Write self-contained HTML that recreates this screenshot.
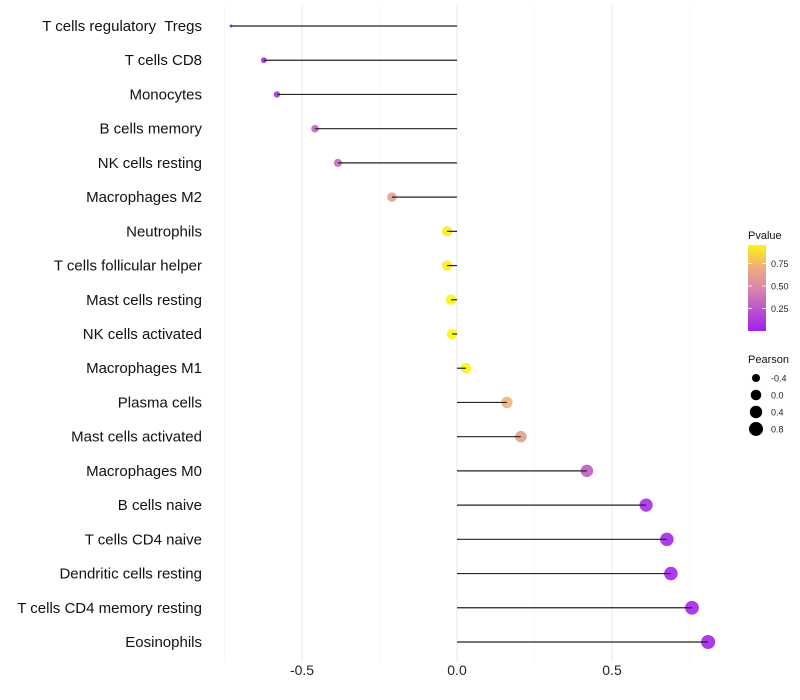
<!DOCTYPE html>
<html><head><meta charset="utf-8"><style>
body{margin:0;background:#fff;font-family:"Liberation Sans",sans-serif}
svg{display:block}
text{white-space:pre}
</style></head><body>
<svg id="chart" width="800" height="700">
<g id="grid"></g>
<g id="marks"></g>
<g id="ylabels"></g>
<g id="xlabels"></g>
<g id="legend"></g>
</svg>
<script>
const categories=["T cells regulatory  Tregs","T cells CD8","Monocytes","B cells memory","NK cells resting","Macrophages M2","Neutrophils","T cells follicular helper","Mast cells resting","NK cells activated","Macrophages M1","Plasma cells","Mast cells activated","Macrophages M0","B cells naive","T cells CD4 naive","Dendritic cells resting","T cells CD4 memory resting","Eosinophils"];
const pearson=[-0.729,-0.623,-0.581,-0.458,-0.384,-0.21,-0.032,-0.032,-0.019,-0.016,0.029,0.161,0.206,0.419,0.61,0.677,0.69,0.758,0.81];
const pvalue=[0.02,0.05,0.1,0.3,0.35,0.62,0.95,0.95,0.96,0.96,0.96,0.75,0.62,0.28,0.06,0.04,0.04,0.03,0.03];
const xTicks=[-0.5,0,0.5];
const xTickLabels=["-0.5","0.0","0.5"];
const xMinor=[-0.75,-0.25,0.25,0.75];
const legendP=[0.25,0.5,0.75];
const legendSizes=[-0.4,0.0,0.4,0.8];

const NS="http://www.w3.org/2000/svg";
const X=v=>457+v*310;
const Y=i=>26+i*(616/(categories.length-1));
const vMin=Math.min(...pearson),vMax=Math.max(...pearson);
const R=v=>1.5+5.5*Math.sqrt(Math.max(0,(v-vMin)/(vMax-vMin)));
function col(p){
  const stops=[[0,[160,32,240]],[0.5,[217,140,168]],[0.75,[240,180,120]],[1,[255,255,0]]];
  for(let k=0;k<stops.length-1;k++){const[a,ca]=stops[k],[b,cb]=stops[k+1];
    if(p<=b){const t=(p-a)/(b-a);return `rgb(${ca.map((c,j)=>Math.round(c+(cb[j]-c)*t)).join(',')})`;}}
  return "rgb(255,255,0)";
}
function mk(tag,attrs,parent){const e=document.createElementNS(NS,tag);for(const k in attrs)e.setAttribute(k,attrs[k]);parent.appendChild(e);return e;}
const grid=document.getElementById('grid'),marks=document.getElementById('marks'),yl=document.getElementById('ylabels'),xl=document.getElementById('xlabels'),lg=document.getElementById('legend');
xMinor.forEach(v=>{const l=mk('line',{x1:X(v),x2:X(v),y1:5,y2:662,stroke:'#f2f2f2','stroke-width':0.6},grid);

});
xTicks.forEach((v,i)=>{const l=mk('line',{x1:X(v),x2:X(v),y1:5,y2:662,stroke:'#ebebeb','stroke-width':1.1},grid);


const t=mk('text',{x:X(v),y:675,'font-size':14,'text-anchor':'middle',fill:'#222'},xl);t.textContent=xTickLabels[i];

});
categories.forEach((c,i)=>{
  const y=Y(i),v=pearson[i];
  const d=mk('circle',{cx:X(v),cy:y,r:R(v),fill:col(pvalue[i]),opacity:0.9},marks);
  
  
  const s=mk('line',{x1:X(0),x2:X(v),y1:y,y2:y,stroke:'#222','stroke-width':1.2},marks);
  
  
  const t=mk('text',{x:202,y:y+5,'font-size':15,'text-anchor':'end',fill:'#111'},yl);t.textContent=c;
  
  
});
let t=mk('text',{x:748,y:239,'font-size':11,fill:'#111'},lg);t.textContent="Pvalue";


const defs=mk('defs',{},lg);const gr=mk('linearGradient',{id:'pg',x1:0,y1:1,x2:0,y2:0},defs);
[0,0.25,0.5,0.75,1].forEach(p=>mk('stop',{offset:p,'stop-color':col(p*0.96)},gr));
const bar=mk('rect',{x:748,y:245,width:18,height:86,fill:'url(#pg)'},lg);


legendP.forEach(p=>{const y=331-p*90;
  mk('line',{x1:748,x2:752,y1:y,y2:y,stroke:'#fff','stroke-width':0.8},lg);mk('line',{x1:762,x2:766,y1:y,y2:y,stroke:'#fff','stroke-width':0.8},lg);
  const tt=mk('text',{x:771,y:y+3.5,'font-size':9,fill:'#222'},lg);tt.textContent=p.toFixed(2);
  
  });
t=mk('text',{x:748,y:363,'font-size':11,fill:'#111'},lg);t.textContent="Pearson";


legendSizes.forEach((v,i)=>{const y=378+i*17;
  const c=mk('circle',{cx:756,cy:y,r:R(v),fill:'#000'},lg);
  
  
  const tt=mk('text',{x:771,y:y+3.5,'font-size':9,fill:'#222'},lg);tt.textContent=v.toFixed(1);
  
  });
</script>
</body></html>
